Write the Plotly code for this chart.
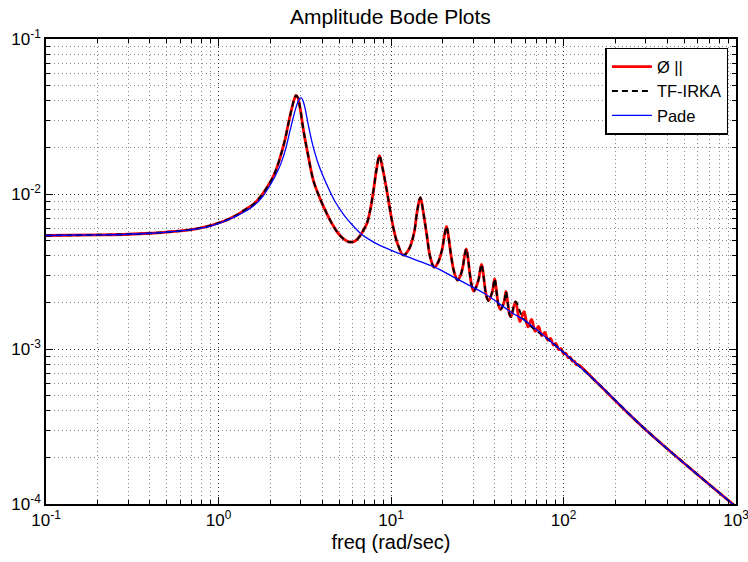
import plotly.graph_objects as go

# full model response, amplitudes in units of 1e-3
RED_FREQ = [
    0.1, 0.2, 0.3, 0.4, 0.5, 0.6, 0.7, 0.85, 1.0, 1.15, 1.3, 1.45, 1.6, 1.8,
    2.0, 2.15, 2.28, 2.42, 2.54, 2.65, 2.74, 2.81, 2.88, 2.97, 3.11, 3.3,
    3.55, 3.9, 4.25, 4.6, 4.96, 5.35, 5.79, 6.2, 6.6, 6.95, 7.24, 7.6, 7.91,
    8.25, 8.57, 8.9, 9.46, 10.3, 10.9, 11.8,
    12.7, 13.6, 14.2, 14.8, 15.4, 16.1, 16.9, 17.8,
    18.7, 19.8, 20.4, 21.0, 21.6, 22.3, 23.3, 24.3,
    25.2, 26.1, 26.7, 27.3, 27.9, 28.6, 29.4, 30.2,
    31.1, 32.3, 32.9, 33.5, 34.1, 34.8, 35.7, 36.7,
    38.7, 39.9, 41.1, 42.1, 43.2,
    45.2, 46.4, 47.6, 48.6, 49.6,
    52.7, 55.9, 59.0, 62.2, 65.3, 68.5, 71.6, 74.8, 77.9, 81.1, 84.2,
    87.4, 90.5, 93.7, 96.8, 100.0, 103.1, 106.3, 109.4, 112.6, 115.7, 118.9,
    122.0, 150.0, 303.0, 1000.0,
]
RED_AMP = [
    5.40, 5.45, 5.50, 5.58, 5.68, 5.78, 5.90, 6.15, 6.50, 6.90, 7.40, 8.00,
    8.60, 10.0, 12.0, 14.2, 17.3, 22.0, 28.4, 35.0, 40.5, 43.2, 42.0, 36.0,
    25.7, 18.0, 12.2, 9.2, 7.45, 6.3, 5.54, 5.1, 4.89, 4.98, 5.35, 5.9, 6.43,
    8.0, 10.5, 14.5, 17.7, 15.0, 10.5, 6.11, 4.8, 4.03,
    4.4, 5.6, 7.8, 9.5, 7.6, 5.5, 3.9, 3.37,
    3.6, 4.4, 5.4, 6.17, 5.2, 4.0, 3.1, 2.78,
    2.95, 3.4, 4.0, 4.43, 3.9, 3.1, 2.55, 2.36,
    2.5, 2.85, 3.25, 3.52, 3.2, 2.65, 2.2, 2.05,
    2.35, 2.84, 2.25, 1.9, 1.80,
    2.0, 2.35, 1.95, 1.68, 1.61,
    2.02, 1.50, 1.74, 1.39, 1.55, 1.30, 1.40, 1.22, 1.28, 1.14, 1.17,
    1.06, 1.085, 0.99, 1.005, 0.935, 0.94, 0.88, 0.885, 0.835, 0.835, 0.79,
    0.79, 0.635, 0.298, 0.096,
]

# TF-IRKA: follows the full response, smooth above ~50 rad/s
IRKA_FREQ = RED_FREQ[:89] + [59.0, 87.0, 150.0, 303.0, 1000.0]
IRKA_AMP = RED_AMP[:89] + [1.55, 1.09, 0.635, 0.298, 0.096]

PADE_FREQ = [
    0.1, 0.2, 0.3, 0.4, 0.5, 0.6, 0.7, 0.85, 1.0, 1.15, 1.3, 1.45, 1.6, 1.8,
    2.0, 2.15, 2.3, 2.45, 2.6, 2.72, 2.82, 2.9, 2.97, 3.03, 3.1, 3.18, 3.25,
    3.4, 3.55, 3.8, 4.25, 4.7, 5.3, 5.9, 6.68, 7.5, 8.5, 11.04, 14.0, 18.8,
    25.0, 35.0, 50.0, 60.0, 87.0, 150.0, 303.0, 1000.0,
]
PADE_AMP = [
    5.40, 5.45, 5.50, 5.58, 5.68, 5.78, 5.90, 6.12, 6.45, 6.85, 7.30, 7.80,
    8.40, 9.60, 11.5, 13.3, 15.7, 19.5, 25.7, 31.5, 36.5, 39.8, 41.6, 41.6,
    39.5, 35.5, 31.3, 24.4, 19.9, 15.5, 11.45, 9.08, 7.40, 6.40, 5.55, 5.08,
    4.70, 4.15, 3.75, 3.29, 2.77, 2.27, 1.72, 1.52, 1.085, 0.635, 0.298,
    0.096,
]

X_DECADES = [-1, 0, 1, 2, 3]
Y_DECADES = [-4, -3, -2, -1]

FONT = "Liberation Sans, Arial, sans-serif"


def to_abs(values):
    return [v * 1e-3 for v in values]


def decade_labels(powers):
    return [f"10<sup>{p}</sup>" for p in powers]


def minor_ticks(powers):
    return [k * 10.0 ** p for p in powers[:-1] for k in range(2, 10)]


def minor_axis(powers):
    return {"tickvals": minor_ticks(powers), "ticks": "inside", "ticklen": 4,
            "tickcolor": "black", "showgrid": True, "gridcolor": "#8a8a8a",
            "griddash": "1px,3px", "gridwidth": 1}


fig = go.Figure()
fig.add_trace(go.Scatter(
    x=RED_FREQ, y=to_abs(RED_AMP), mode="lines", name="Ø ||",
    line={"color": "#ff0000", "width": 2.8, "shape": "spline", "smoothing": 1.0},
))
fig.add_trace(go.Scatter(
    x=IRKA_FREQ, y=to_abs(IRKA_AMP), mode="lines", name="TF-IRKA",
    line={"color": "#000000", "width": 2, "dash": "6px,4px",
          "shape": "spline", "smoothing": 1.0},
))
fig.add_trace(go.Scatter(
    x=PADE_FREQ, y=to_abs(PADE_AMP), mode="lines", name="Pade",
    line={"color": "#0000ff", "width": 1.3, "shape": "spline", "smoothing": 1.0},
))

axis_common = dict(
    type="log",
    automargin=False,
    ticklabeloverflow="allow",
    showline=True, linecolor="black", linewidth=1.5, mirror="ticks",
    ticks="inside", ticklen=7, tickcolor="black", tickwidth=1,
    showgrid=True, gridcolor="#333333", griddash="1px,3px", gridwidth=1,
    zeroline=False,
    tickfont={"family": FONT, "size": 17, "color": "black"},
)

fig.update_xaxes(
    **axis_common,
    range=[-1, 3],
    tickvals=[10.0 ** p for p in X_DECADES],
    ticktext=decade_labels(X_DECADES),
    minor=minor_axis(X_DECADES),
    title={"text": "freq (rad/sec)", "font": {"family": FONT, "size": 20, "color": "black"},
           "standoff": 6},
)
fig.update_yaxes(
    **axis_common,
    range=[-4, -1],
    tickvals=[10.0 ** p for p in Y_DECADES],
    ticktext=decade_labels(Y_DECADES),
    minor=minor_axis(Y_DECADES),
)

fig.update_layout(
    width=748, height=562,
    margin={"l": 46, "r": 12, "t": 39, "b": 58},
    paper_bgcolor="white", plot_bgcolor="white",
    font={"family": FONT, "color": "black"},
    title={"text": "Amplitude Bode Plots", "x": 0.522, "xanchor": "center",
           "y": 0.97, "yanchor": "middle", "font": {"family": FONT, "size": 21}},
    showlegend=True,
    legend={"x": 0.989, "y": 0.981, "xanchor": "right", "yanchor": "top",
            "bgcolor": "white", "bordercolor": "black", "borderwidth": 1.5,
            "font": {"family": FONT, "size": 16.5}, "tracegroupgap": 0,
            "itemwidth": 40},
)

fig.write_html(
    "out.html",
    config={"displayModeBar": False},
    post_script="document.body.style.margin = '0px';",
)
